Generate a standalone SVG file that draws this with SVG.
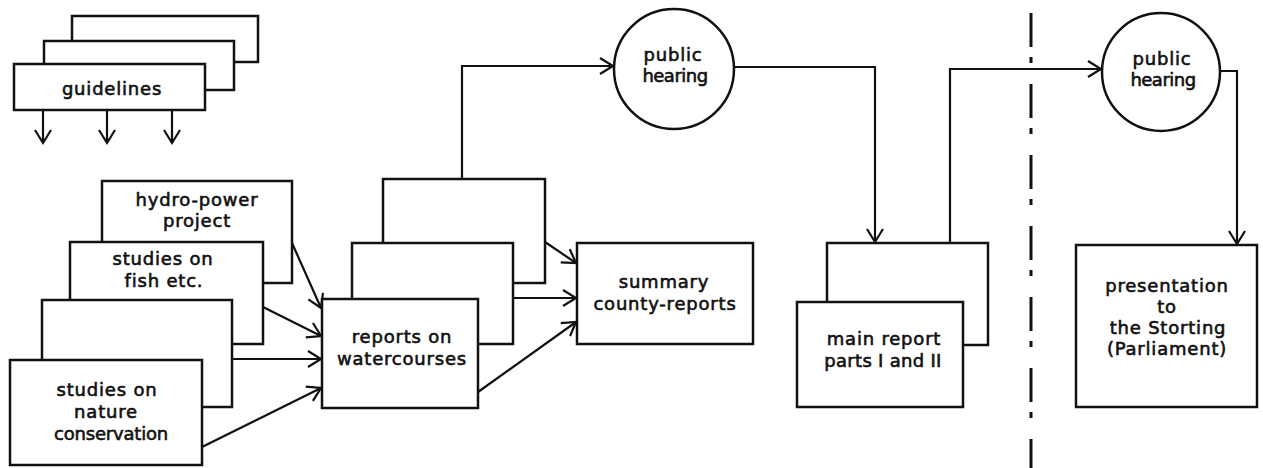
<svg xmlns="http://www.w3.org/2000/svg" width="1263" height="468" viewBox="0 0 1263 468">
<defs>
<style>
.box{fill:#fff;stroke:#111;stroke-width:2.5}
.circ{fill:#fff;stroke:#111;stroke-width:2.5}
.ln{fill:none;stroke:#111;stroke-width:2.2}
.dash{fill:none;stroke:#111;stroke-width:3;stroke-dasharray:34 10 6 21}
text{font-family:"DejaVu Sans","Liberation Sans",sans-serif;font-size:18px;fill:#111;stroke:#111;stroke-width:0.6;letter-spacing:0.8px;text-anchor:middle}
</style>
<marker id="arr" markerUnits="userSpaceOnUse" markerWidth="30" markerHeight="30" viewBox="-15 -15 30 30" refX="0" refY="0" orient="auto">
<path d="M-13,-8 L0,0 L-13,8" fill="none" stroke="#111" stroke-width="2.2"/>
</marker>
</defs>
<rect width="1263" height="468" fill="#fff"/>

<g id="guidelines">
<rect class="box" x="72" y="16" width="186" height="46"/>
<rect class="box" x="44" y="41" width="190" height="49"/>
<rect class="box" x="14" y="64" width="191" height="46"/>
<text x="112" y="95">guidelines</text>
</g>

<g id="hydro-power">
<rect class="box" x="102" y="181" width="190" height="102"/>
<text x="197" y="206">hydro-power</text>
<text x="197" y="227">project</text>
</g>
<g id="fish">
<rect class="box" x="70" y="242" width="193" height="102"/>
<text x="163" y="265">studies on</text>
<text x="164" y="287">fish etc.</text>
</g>
<g id="blank-study">
<rect class="box" x="42" y="300" width="190" height="107"/>
</g>
<g id="nature">
<rect class="box" x="10" y="360" width="192" height="105"/>
<text x="107" y="396">studies on</text>
<text x="106" y="418">nature</text>
<text x="111" y="440" style="letter-spacing:-0.2px">conservation</text>
</g>

<g id="reports">
<rect class="box" x="383" y="179" width="162" height="104"/>
<rect class="box" x="352" y="243" width="161" height="101"/>
<rect class="box" x="322" y="299" width="156" height="109"/>
<text x="402" y="343">reports on</text>
<text x="402" y="365">watercourses</text>
</g>

<g id="summary">
<rect class="box" x="577" y="243" width="176" height="101"/>
<text x="664" y="288">summary</text>
<text x="665" y="310">county-reports</text>
</g>

<g id="hearing1">
<circle class="circ" cx="674" cy="69" r="60"/>
<text x="673" y="61">public</text>
<text x="675" y="82" style="letter-spacing:-0.5px">hearing</text>
</g>

<g id="main-report">
<rect class="box" x="827" y="243" width="161" height="102"/>
<rect class="box" x="797" y="302" width="166" height="105"/>
<text x="884" y="345">main report</text>
<text x="883" y="367" style="letter-spacing:0.3px">parts I and II</text>
</g>

<g id="hearing2">
<circle class="circ" cx="1161" cy="72" r="59"/>
<text x="1162" y="65">public</text>
<text x="1163" y="86" style="letter-spacing:-0.5px">hearing</text>
</g>

<g id="presentation">
<rect class="box" x="1076" y="245" width="181" height="162"/>
<text x="1167" y="292">presentation</text>
<text x="1167" y="313">to</text>
<text x="1168" y="334">the Storting</text>
<text x="1167" y="355">(Parliament)</text>
</g>

<g id="divider">
<line class="dash" x1="1031" y1="13" x2="1031" y2="468"/>
</g>

<g id="connectors">
<line class="ln" x1="43" y1="110" x2="43" y2="143" marker-end="url(#arr)"/>
<line class="ln" x1="107" y1="110" x2="107" y2="143" marker-end="url(#arr)"/>
<line class="ln" x1="172" y1="110" x2="172" y2="143" marker-end="url(#arr)"/>
<line class="ln" x1="292" y1="243" x2="321" y2="308" marker-end="url(#arr)"/>
<line class="ln" x1="263" y1="307" x2="321" y2="336" marker-end="url(#arr)"/>
<line class="ln" x1="232" y1="359" x2="321" y2="359" marker-end="url(#arr)"/>
<line class="ln" x1="202" y1="447" x2="321" y2="388" marker-end="url(#arr)"/>
<line class="ln" x1="545" y1="242" x2="576" y2="263" marker-end="url(#arr)"/>
<line class="ln" x1="513" y1="298" x2="576" y2="298" marker-end="url(#arr)"/>
<line class="ln" x1="478" y1="392" x2="576" y2="322" marker-end="url(#arr)"/>
<polyline class="ln" points="462,179 462,66 613,66" marker-end="url(#arr)"/>
<polyline class="ln" points="734,67 875,67 875,242" marker-end="url(#arr)"/>
<polyline class="ln" points="950,243 950,69 1101,69" marker-end="url(#arr)"/>
<polyline class="ln" points="1220,71 1237,71 1237,244" marker-end="url(#arr)"/>
</g>
</svg>
